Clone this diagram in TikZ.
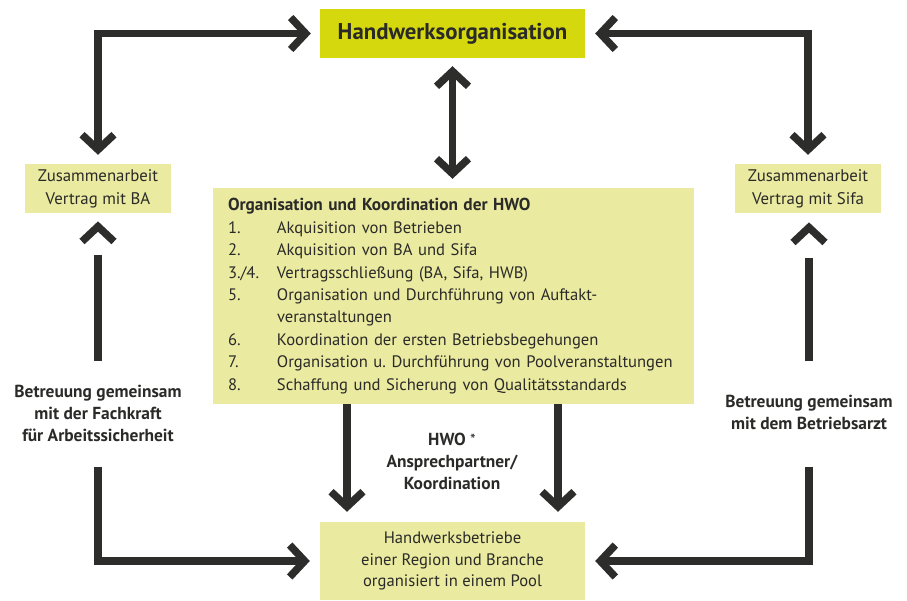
\documentclass[tikz,border=0pt]{standalone}
\usepackage{fontspec}
\setmainfont{PT Sans}
\usetikzlibrary{arrows.meta,calc}
\definecolor{topc}{RGB}{214,216,14}
\definecolor{boxc}{RGB}{234,234,161}
\definecolor{ink}{RGB}{45,45,43}
\definecolor{txt}{RGB}{42,42,40}
\tikzset{
  barb/.tip={Straight Barb[length=15pt,width=32pt,line join=miter,line cap=butt]},
  bar/.style={draw=ink, line width=7.5pt, line join=miter, line cap=butt},
  txtfont/.style={font=\fontsize{16.6}{22.4}\selectfont, text=txt},
  lightbox/.style={fill=boxc, inner sep=0pt, align=center, txtfont},
  label/.style={inner sep=0pt, align=center, text=txt, font=\fontsize{17.4}{22}\selectfont\bfseries},
  upchev/.pic={\draw[bar] (-16,20.3) -- (0,5.3) -- (16,20.3);},
}
\begin{document}
\begin{tikzpicture}[x=1pt,y=-1pt]
\useasboundingbox (0,0) rectangle (907,600);
% boxes
\node[fill=topc, minimum width=265pt, minimum height=49pt, inner sep=0pt, text=txt,
      font=\fontsize{22.8}{26}\selectfont\bfseries] (top) at (452.5,33.5) {Handwerksorganisation};
\node[lightbox, minimum width=146pt, minimum height=49pt, font=\fontsize{16.8}{23}\selectfont] (zl) at (98,188.5) {Zusammenarbeit\\Vertrag mit BA};
\node[lightbox, minimum width=146pt, minimum height=49pt, font=\fontsize{16.8}{23}\selectfont] (zr) at (808,188.5) {Zusammenarbeit\\Vertrag mit Sifa};
\node[fill=boxc, minimum width=481pt, minimum height=216pt, text width=451pt, inner xsep=15pt,
      inner ysep=0pt, align=left, txtfont] (mid) at (453.5,296)
  {{\fontsize{17.3}{22.4}\selectfont\bfseries Organisation und Koordination der HWO}\\
   \makebox[49pt][l]{1.}Akquisition von Betrieben\\
   \makebox[49pt][l]{2.}Akquisition von BA und Sifa\\
   \makebox[49pt][l]{3./4.}Vertragsschließung (BA, Sifa, HWB)\\
   \makebox[49pt][l]{5.}Organisation und Durchführung von Auftakt-\\
   \hspace*{49pt}veranstaltungen\\
   \makebox[49pt][l]{6.}Koordination der ersten Betriebsbegehungen\\
   \makebox[49pt][l]{7.}Organisation u.\ Durchführung von Poolveranstaltungen\\
   \makebox[49pt][l]{8.}Schaffung und Sicherung von Qualitätsstandards};
\node[lightbox, minimum width=265pt, minimum height=78pt, font=\fontsize{16.6}{21.5}\selectfont]
  (bot) at (452.5,561) {Handwerksbetriebe\\einer Region und Branche\\organisiert in einem Pool};
% labels
\node[label] (bl) at (98,413) {Betreuung gemeinsam\\mit der Fachkraft\\für Arbeitssicherheit};
\node[label] (br) at (809,412.5) {Betreuung gemeinsam\\mit dem Betriebsarzt};
\node[label] (hwo) at (452,461) {HWO {\mdseries\fontsize{16}{16}\selectfont *}\\Ansprechpartner/\\Koordination};
% free line ends
\coordinate (lu) at (98,361);
\coordinate (lt) at (98,255);
\coordinate (ll) at (98,467);
\coordinate (ru) at (809,361);
\coordinate (rt) at (809,258);
\coordinate (rl) at (809,467);
\coordinate (ca) at (347,0);
\coordinate (cb) at (558,0);
% connectors
\draw[bar, {barb}-{barb}, shorten <=9pt, shorten >=9pt] (zl.north) |- (top.west);
\draw[bar, {barb}-{barb}, shorten <=9pt, shorten >=10pt] (zr.north) |- (top.east);
\draw[bar, {barb}-{barb}, shorten <=8pt, shorten >=9pt] (top.south) -- (top.south |- mid.north);
\draw[bar] (lu) -- (lt);
\pic at ($(zl.south)+(0,8)$) {upchev};
\draw[bar] (ru) -- (rt);
\pic at ($(zr.south -| ru)+(0,9)$) {upchev};
\draw[bar, -{barb}, shorten >=10pt] (ll) |- (bot.west);
\draw[bar, -{barb}, shorten >=10pt] (rl) |- (bot.east);
\draw[bar, -{barb}, shorten >=10pt] (mid.south -| ca) -- (bot.north -| ca);
\draw[bar, -{barb}, shorten >=10pt] (mid.south -| cb) -- (bot.north -| cb);
\end{tikzpicture}
\end{document}
